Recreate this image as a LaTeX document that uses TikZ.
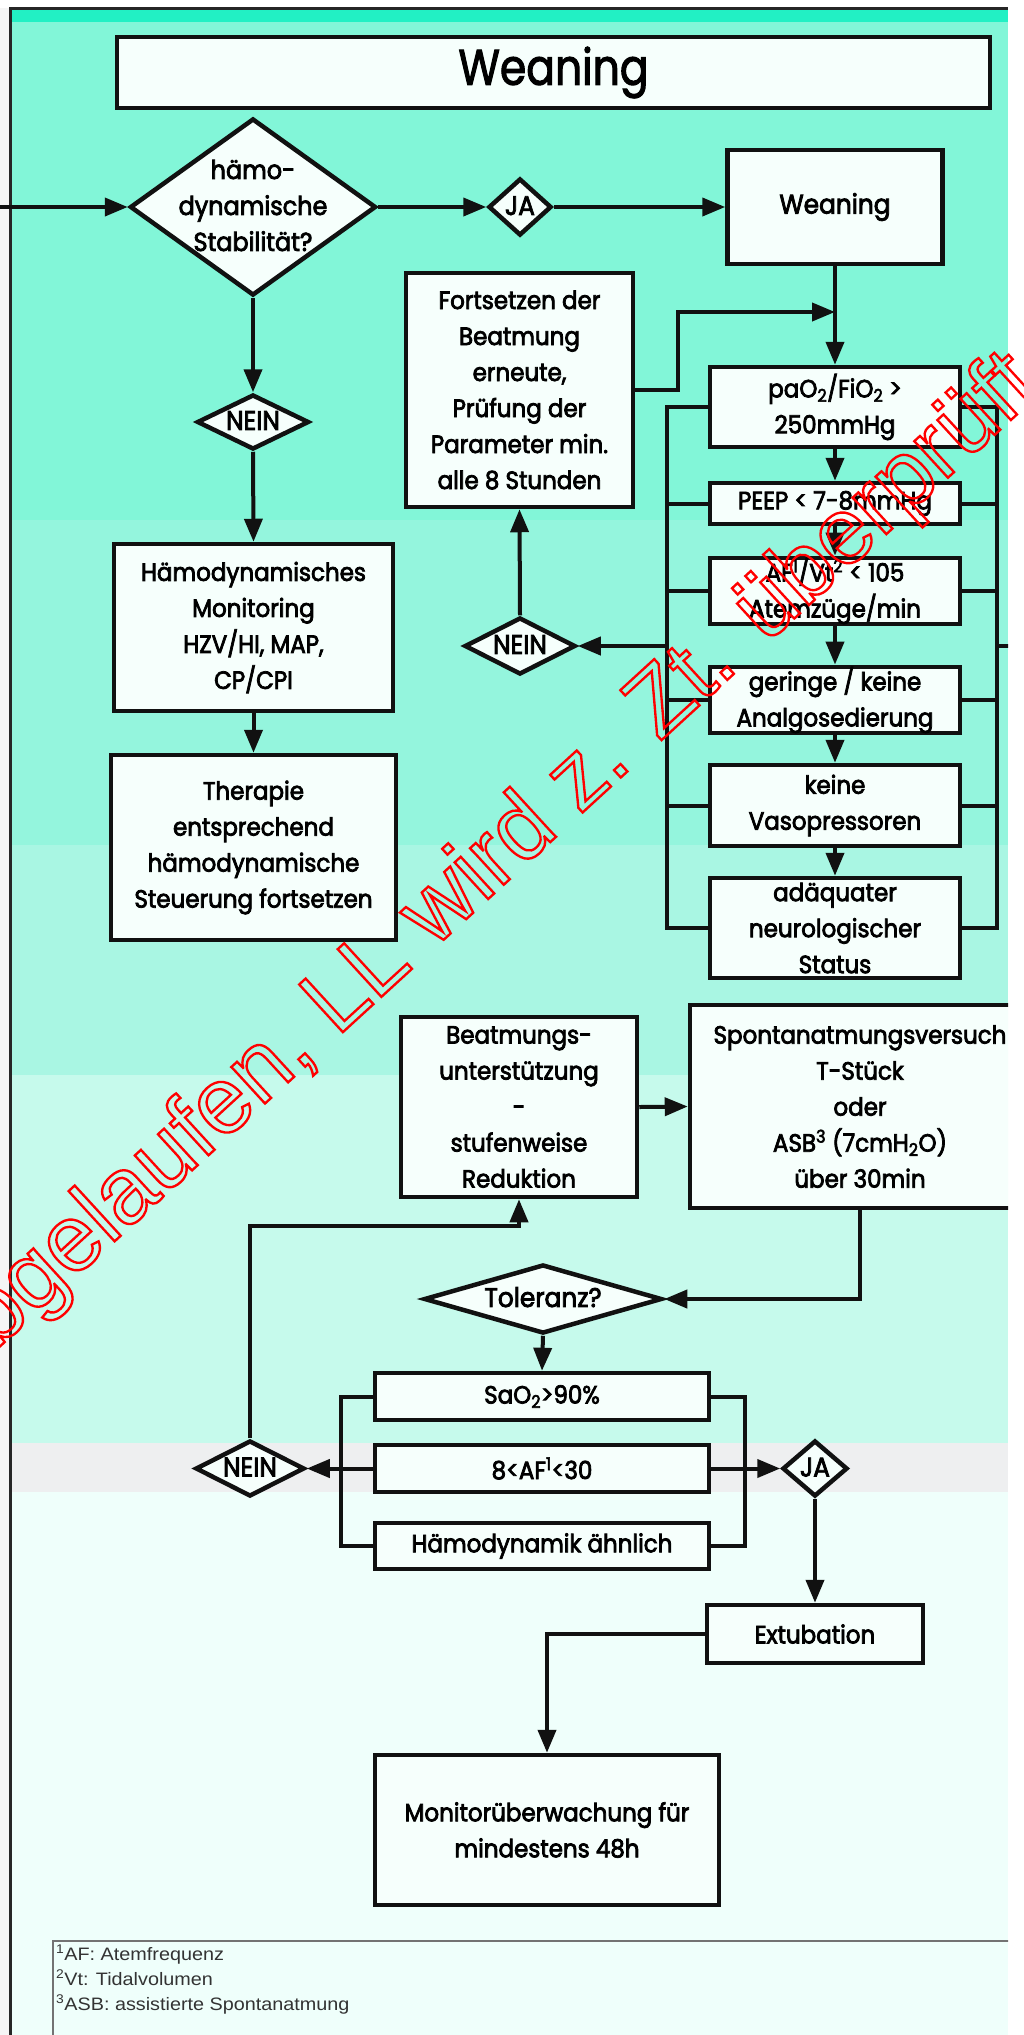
\documentclass[tikz,border=0pt]{standalone}
\usepackage{fontspec}
\setmainfont{Poppins}[FakeStretch=0.92,FakeBold=3]
\newfontfamily\tfont{Poppins}[FakeStretch=0.85,FakeBold=2]
\newfontfamily\fnfont{Liberation Sans}[FakeStretch=1.1]
\newfontfamily\wmfont{Liberation Sans}[FakeBold=2.5]
\usetikzlibrary{shapes.geometric,arrows.meta}
\definecolor{bgA}{HTML}{22F0C4}
\definecolor{bgB}{HTML}{82F6D8}
\definecolor{bgC}{HTML}{94F5DD}
\definecolor{bgD}{HTML}{A9F6E3}
\definecolor{bgE}{HTML}{C6FAEC}
\definecolor{bgF}{HTML}{EEEFF0}
\definecolor{bgG}{HTML}{EFFFFB}
\definecolor{boxfill}{HTML}{F6FFFC}
\definecolor{ink}{HTML}{111111}
\newcommand\zt[1]{\smash{\makebox[0pt]{\raisebox{-7pt}{\begin{tabular}{@{}c@{}}#1\end{tabular}}}}}
\begin{document}
\begin{tikzpicture}[x=1pt,y=-1pt,
  txt/.style={font=\fontsize{25}{36}\selectfont},
  box/.style={draw=ink, line width=4.5pt, fill=boxfill, inner sep=0pt, align=center, txt},
  dia/.style={shape=diamond, draw=ink, line width=4.5pt, fill=boxfill, inner sep=0pt, font=\fontsize{27}{36}\selectfont},
  conn/.style={draw=ink, line width=4pt, -{Triangle[length=23pt,width=18pt]}},
  lnk/.style={draw=ink, line width=4pt},
  fn/.style={font=\fnfont\fontsize{18}{25}\selectfont, text=black!80, align=left, inner sep=0pt},
  wm/.style={anchor=base west, rotate=42.5, text=red, fill opacity=0, inner sep=0pt,
     font=\wmfont\fontsize{94}{94}\selectfont}]
\useasboundingbox (0,0) rectangle (1023,2035);
% background
\fill[white] (0,0) rectangle (1023,2035);
\fill[black!4] (0,8) rectangle (9,2035);
\fill[bgA] (9,8) rectangle (1008,22);
\fill[bgB] (9,22) rectangle (1008,520);
\fill[bgC] (9,520) rectangle (1008,845);
\fill[bgD] (9,845) rectangle (1008,1075);
\fill[bgE] (9,1075) rectangle (1008,1443);
\fill[bgF] (9,1443) rectangle (1008,1492);
\fill[bgG] (9,1492) rectangle (1008,2035);
\draw[line width=3pt, black!85] (10,2035) -- (10,8) -- (1008,8);

\begin{scope}
\clip (0,0) rectangle (1008,2035);
% nodes
\node[box, minimum width=873, minimum height=71, font=\tfont\fontsize{50}{60}\selectfont] (title) at (553.5,72.5) {Weaning};
\node[dia, minimum width=246, minimum height=177, font=\fontsize{26}{36}\selectfont] (d1) at (253,207) {\zt{hämo-\\dynamische\\Stabilität?}};
\node[dia, minimum width=63, minimum height=57] (ja1) at (520,207) {\zt{JA}};
\node[box, minimum width=215, minimum height=114, font=\fontsize{27}{36}\selectfont] (wean) at (835,207) {Weaning};
\node[box, minimum width=227, minimum height=234] (fort) at (519.5,390) {Fortsetzen der\\Beatmung\\erneute,\\Prüfung der\\Parameter min.\\alle 8 Stunden};
\node[box, minimum width=250, minimum height=80] (pao) at (835,407) {paO\textsubscript{2}/FiO\textsubscript{2} >\\250mmHg};
\node[box, minimum width=250, minimum height=41] (peep) at (835,503.5) {PEEP < 7-8mmHg};
\node[box, minimum width=250, minimum height=66] (af) at (835,591) {AF\textsuperscript{1}/Vt\textsuperscript{2} < 105\\Atemzüge/min};
\node[box, minimum width=250, minimum height=66] (ger) at (835,700) {geringe / keine\\Analgosedierung};
\node[box, minimum width=250, minimum height=81] (kein) at (835,805.5) {keine\\Vasopressoren};
\node[box, minimum width=250, minimum height=100] (adq) at (835,928) {adäquater\\neurologischer\\Status};
\node[dia, minimum width=111, minimum height=57] (nein1) at (520,646) {\zt{NEIN}};
\node[dia, minimum width=112, minimum height=55] (nein0) at (253,422) {\zt{NEIN}};
\node[box, minimum width=279, minimum height=167] (hamo) at (253.5,627.5) {Hämodynamisches\\Monitoring\\HZV/HI, MAP,\\CP/CPI};
\node[box, minimum width=285, minimum height=185] (ther) at (253.5,847.5) {Therapie\\entsprechend\\hämodynamische\\Steuerung fortsetzen};
\node[box, minimum width=236, minimum height=180] (beat) at (519,1107) {Beatmungs-\\unterstützung\\-\\stufenweise\\Reduktion};
\node[box, minimum width=340, minimum height=203] (spon) at (860,1106.5) {Spontanatmungsversuch\\T-Stück\\oder\\ASB\textsuperscript{3} (7cmH\textsubscript{2}O)\\über 30min};
\node[dia, minimum width=238, minimum height=69] (tol) at (543,1299) {\zt{Toleranz?}};
\node[box, minimum width=334, minimum height=47] (sao) at (542,1396.5) {SaO\textsubscript{2}>90\%};
\node[box, minimum width=334, minimum height=47] (afr) at (542,1468.5) {8<AF\textsuperscript{1}<30};
\node[box, minimum width=334, minimum height=46] (hae) at (542,1546) {Hämodynamik ähnlich};
\node[dia, minimum width=109, minimum height=56] (nein2) at (250,1468.5) {\zt{NEIN}};
\node[dia, minimum width=65, minimum height=56] (ja2) at (815,1468.5) {\zt{JA}};
\node[box, minimum width=216, minimum height=58] (ext) at (815,1634) {Extubation};
\node[box, minimum width=344, minimum height=150] (mon) at (547,1830) {Monitorüberwachung für\\mindestens 48h};
\node[draw=black!55, line width=1.5pt, minimum width=990, minimum height=110, anchor=north west, inner sep=0pt] (fnbox) at (52,1940) {};
\node[fn, anchor=base west] (fntext) at (56,2010) {\textsuperscript{1}AF: Atemfrequenz\\\textsuperscript{2}Vt: Tidalvolumen\\\textsuperscript{3}ASB: assistierte Spontanatmung};

% helper coordinates
\coordinate (lin) at (0,207);
\coordinate (fj) at (678,312);
\coordinate (bl) at (667,646);
\coordinate (br) at (997,646);
\coordinate (rout) at (1015,646);
\coordinate (bl2) at (341,1468.5);
\coordinate (br2) at (745,1468.5);
\coordinate (lj) at (250,1226);

% connectors
\draw[conn] (lin) -- (d1.west);
\draw[conn] (d1.east) -- (ja1.west);
\draw[conn] (ja1.east) -- (wean.west);
\draw[conn] (wean.south) -- (pao.north);
\draw[conn] (fort.east) -| (fj) -- (wean.south |- fj);
\draw[conn] (pao.south) -- (peep.north);
\draw[conn] (peep.south) -- (af.north);
\draw[conn] (af.south) -- (ger.north);
\draw[conn] (ger.south) -- (kein.north);
\draw[conn] (kein.south) -- (adq.north);
\draw[lnk] (pao.west) -| (bl) |- (adq.west);
\draw[lnk] (pao.east) -| (br) |- (adq.east);
\foreach \n in {peep,af,ger,kein} {
  \draw[lnk] (\n.west) -- (\n.west -| bl);
  \draw[lnk] (\n.east) -- (\n.east -| br);
}
\draw[conn] (bl) -- (nein1.east);
\draw[lnk] (br) -- (rout);
\draw[conn] (nein1.north) -- (fort.south);
\draw[conn] (d1.south) -- (nein0.north);
\draw[conn] (nein0.south) -- (hamo.north);
\draw[conn] (hamo.south) -- (ther.north);
\draw[conn] (beat.east) -- (spon.west);
\draw[conn] (spon.south) |- (tol.east);
\draw[conn] (tol.south) -- (sao.north);
\draw[lnk] (sao.west) -| (bl2) |- (hae.west);
\draw[lnk] (sao.east) -| (br2) |- (hae.east);
\draw[conn] (afr.west) -- (nein2.east);
\draw[conn] (afr.east) -- (ja2.west);
\draw[conn] (nein2.north) -- (lj) -| (beat.south);
\draw[conn] (ja2.south) -- (ext.north);
\draw[conn] (ext.west) -| (mon.north);
\end{scope}

% watermark
\node[wm] (wm) at (-52,1394) {Abgelaufen, LL wird z. Zt. überprüft};
\end{tikzpicture}
\end{document}
